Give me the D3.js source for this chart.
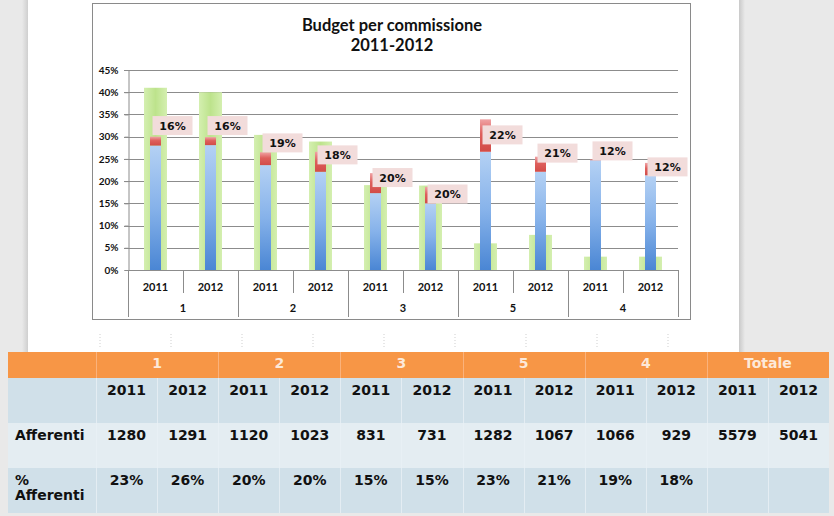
<!DOCTYPE html>
<html><head><meta charset="utf-8">
<script src="https://cdn.jsdelivr.net/npm/d3@7"></script>
<style>html,body{margin:0;padding:0;background:#e9e9e9;}svg{display:block;}</style>
</head><body><svg id="c" width="834" height="516"></svg>
<script>
// ---- data ----
const groups = ["1", "2", "3", "5", "4"];
const years = ["2011", "2012"];
const budgetShare = [41, 40, 30.4, 28.9, 19.1, 19.0, 6.0, 7.9, 3.0, 3.0];      // green
const blueShare = [28.0, 28.1, 23.6, 22.1, 17.3, 15.0, 26.6, 22.1, 24.7, 21.3]; // blue
const redShare = [2.0, 1.8, 2.9, 4.5, 4.5, 3.7, 7.3, 3.4, 0.2, 2.8];           // red stacked on blue
const labelText = ["16%", "16%", "19%", "18%", "20%", "20%", "22%", "21%", "12%", "12%"];
const labelValue = [32.5, 32.5, 28.6, 25.9, 20.8, 17.1, 30.4, 26.3, 26.8, 23.2];
const yTicks = [0, 5, 10, 15, 20, 25, 30, 35, 40, 45];
const tableGroups = ["1", "2", "3", "5", "4", "Totale"];
const afferenti = [1280, 1291, 1120, 1023, 831, 731, 1282, 1067, 1066, 929, 5579, 5041];
const pctAfferenti = ["23%", "26%", "20%", "20%", "15%", "15%", "23%", "21%", "19%", "18%", "", ""];

const svg = d3.select("#c");
const defs = svg.append("defs");
function lin(id, x2, y2, stops) {
  const g = defs.append("linearGradient").attr("id", id).attr("x1", 0).attr("y1", 0).attr("x2", x2).attr("y2", y2);
  stops.forEach(s => g.append("stop").attr("offset", s[0]).attr("stop-color", s[1]));
}
lin("gBlue", 0, 1, [[0, "#b4d1f4"], [0.5, "#86b2ea"], [1, "#4a86d4"]]);
lin("gRed", 0, 1, [[0, "#f0a3a5"], [0.45, "#de5f5c"], [1, "#d24c48"]]);
lin("gGreen", 1, 0, [[0, "#d4efb0"], [0.5, "#bde38c"], [1, "#d4efb0"]]);
lin("gShadowL", 1, 0, [[0, "#e9e9e9"], [1, "#cfcfcf"]]);
lin("gShadowR", 1, 0, [[0, "#c9c9c9"], [1, "#e9e9e9"]]);

// page background
svg.append("rect").attr("x", 0).attr("y", 0).attr("width", 834).attr("height", 516).attr("fill", "#e9e9e9");
svg.append("rect").attr("x", 22).attr("y", 0).attr("width", 6).attr("height", 352).attr("fill", "url(#gShadowL)");
svg.append("rect").attr("x", 739).attr("y", 0).attr("width", 6).attr("height", 352).attr("fill", "url(#gShadowR)");
svg.append("rect").attr("x", 28).attr("y", 0).attr("width", 711).attr("height", 352).attr("fill", "#ffffff");

// faint table-grid marks above the table
d3.range(9).forEach(i => {
  svg.append("line").attr("x1", 100 + i * 71).attr("x2", 100 + i * 71).attr("y1", 334).attr("y2", 348)
    .attr("stroke", "#cfcfcf").attr("stroke-dasharray", "1,2");
});

// chart frame
svg.append("rect").attr("x", 92.5).attr("y", 3.5).attr("width", 598).attr("height", 316)
  .attr("fill", "#fff").attr("stroke", "#8a8a8a");

// title
const title = svg.append("text").attr("text-anchor", "middle")
  .style("font-family", "Lato, 'Open Sans', sans-serif").style("font-weight", "700").style("font-size", "16.5px").attr("fill", "#111");
title.append("tspan").attr("x", 392).attr("y", 31).text("Budget per commissione");
title.append("tspan").attr("x", 392).attr("y", 51).text("2011-2012");

// scales
const keys = [];
groups.forEach(g => years.forEach(y => keys.push(g + "|" + y)));
const x = d3.scaleBand().domain(keys).range([128, 678]).padding(0);
const y = d3.scaleLinear().domain([0, 45]).range([270, 70]);

// grid
const grid = svg.append("g");
grid.selectAll("line").data(yTicks.filter(t => t > 0)).join("line")
  .attr("x1", 124).attr("x2", 678).attr("y1", d => Math.round(y(d)) + 0.5).attr("y2", d => Math.round(y(d)) + 0.5)
  .attr("stroke", "#8c8c8c");

// y axis
const yAxis = svg.append("g").attr("transform", "translate(128.5,0)")
  .call(d3.axisLeft(y).tickValues(yTicks).tickFormat(d => d + "%").tickSize(4).tickPadding(6));
yAxis.select(".domain").attr("stroke", "#8c8c8c");
yAxis.selectAll(".tick line").attr("stroke", "#8c8c8c");
yAxis.selectAll("text").style("font-family", "Lato, sans-serif").style("font-weight", "700").style("font-size", "10px").attr("fill", "#111");

// bars
const cx = (i) => x(keys[i]) + x.bandwidth() / 2;
svg.append("g").selectAll("rect").data(budgetShare).join("rect")
  .attr("x", (d, i) => cx(i) - 11.5).attr("width", 23)
  .attr("y", d => y(d)).attr("height", d => y(0) - y(d)).attr("fill", "url(#gGreen)");
svg.append("g").selectAll("rect").data(blueShare).join("rect")
  .attr("x", (d, i) => cx(i) - 5.5).attr("width", 11)
  .attr("y", d => y(d)).attr("height", d => y(0) - y(d)).attr("fill", "url(#gBlue)");
svg.append("g").selectAll("rect").data(redShare).join("rect")
  .attr("x", (d, i) => cx(i) - 5.5).attr("width", 11)
  .attr("y", (d, i) => y(blueShare[i] + d)).attr("height", (d, i) => y(blueShare[i]) - y(blueShare[i] + d))
  .attr("fill", "url(#gRed)");

// x axis (multi-level)
const xa = svg.append("g").attr("stroke", "#8c8c8c");
xa.append("line").attr("x1", 128).attr("x2", 678).attr("y1", 270.5).attr("y2", 270.5);
d3.range(keys.length + 1).forEach(i => {
  const xx = Math.round(i < keys.length ? x(keys[i]) : 678) + 0.5;
  const isGroup = i % 2 === 0;
  xa.append("line").attr("x1", xx).attr("x2", xx).attr("y1", 270).attr("y2", isGroup ? 317 : 293);
});
svg.append("g").selectAll("text").data(keys).join("text")
  .attr("x", (d, i) => cx(i)).attr("y", 291).attr("text-anchor", "middle")
  .style("font-family", "Lato, sans-serif").style("font-weight", "700").style("font-size", "11px").attr("fill", "#111")
  .text(d => d.split("|")[1]);
svg.append("g").selectAll("text").data(groups).join("text")
  .attr("x", (d, i) => (x(d + "|2011") + x(d + "|2012") + x.bandwidth()) / 2).attr("y", 312).attr("text-anchor", "middle")
  .style("font-family", "Lato, sans-serif").style("font-weight", "700").style("font-size", "11px").attr("fill", "#111")
  .text(d => d);

// data labels
const lab = svg.append("g").selectAll("g").data(labelText).join("g")
  .attr("transform", (d, i) => `translate(${cx(i) - 3},${y(labelValue[i])})`);
lab.append("rect").attr("x", 0).attr("y", -9.5).attr("width", 40).attr("height", 19).attr("fill", "#f2dcdb");
lab.append("text").attr("x", 20).attr("y", 4).attr("text-anchor", "middle")
  .style("font-family", "'DejaVu Sans', sans-serif").style("font-weight", "700").style("font-size", "11px").attr("fill", "#111")
  .text(d => d);

// ---- table ----
const tx0 = 8, tx1 = 829, firstW = 88;
const colX = d3.scaleBand().domain(d3.range(12)).range([tx0 + firstW, tx1]).padding(0);
const rows = [[352, 378, "#f79646"], [378, 423, "#d0e0e9"], [423, 468, "#e4edf2"], [468, 513, "#d0e0e9"]];
const tb = svg.append("g");
rows.forEach(r => tb.append("rect").attr("x", tx0).attr("y", r[0]).attr("width", tx1 - tx0).attr("height", r[1] - r[0]).attr("fill", r[2]));
// dividers
tableGroups.forEach((g, gi) => {
  const xx = Math.round(colX(gi * 2)) + 0.5;
  tb.append("line").attr("x1", xx).attr("x2", xx).attr("y1", 352).attr("y2", 378).attr("stroke", "#fab27c");
});
d3.range(12).forEach(i => {
  const xx = Math.round(colX(i)) + 0.5;
  tb.append("line").attr("x1", xx).attr("x2", xx).attr("y1", 378).attr("y2", 513).attr("stroke", "#e8f0f5").attr("stroke-opacity", 0.8);
});
const tfont = (s) => s.style("font-family", "'DejaVu Sans', sans-serif").style("font-weight", "700").style("font-size", "14px");
tb.append("g").selectAll("text").data(tableGroups).join("text")
  .attr("x", (d, i) => colX(i * 2) + colX.bandwidth()).attr("y", 368).attr("text-anchor", "middle")
  .attr("fill", "#fde9d9").call(tfont).text(d => d);
const yearRow = d3.range(12).map(i => years[i % 2]);
tb.append("g").selectAll("text").data(yearRow).join("text")
  .attr("x", (d, i) => colX(i) + colX.bandwidth() / 2).attr("y", 395).attr("text-anchor", "middle")
  .attr("fill", "#111").call(tfont).text(d => d);
tb.append("g").selectAll("text").data(afferenti).join("text")
  .attr("x", (d, i) => colX(i) + colX.bandwidth() / 2).attr("y", 440).attr("text-anchor", "middle")
  .attr("fill", "#111").call(tfont).text(d => d);
tb.append("g").selectAll("text").data(pctAfferenti).join("text")
  .attr("x", (d, i) => colX(i) + colX.bandwidth() / 2).attr("y", 485).attr("text-anchor", "middle")
  .attr("fill", "#111").call(tfont).text(d => d);
tb.append("text").attr("x", 15).attr("y", 440).attr("fill", "#111").call(tfont).text("Afferenti");
const pa = tb.append("text").attr("fill", "#111").call(tfont);
pa.append("tspan").attr("x", 15).attr("y", 485).text("%");
pa.append("tspan").attr("x", 15).attr("y", 500).text("Afferenti");
</script></body></html>
